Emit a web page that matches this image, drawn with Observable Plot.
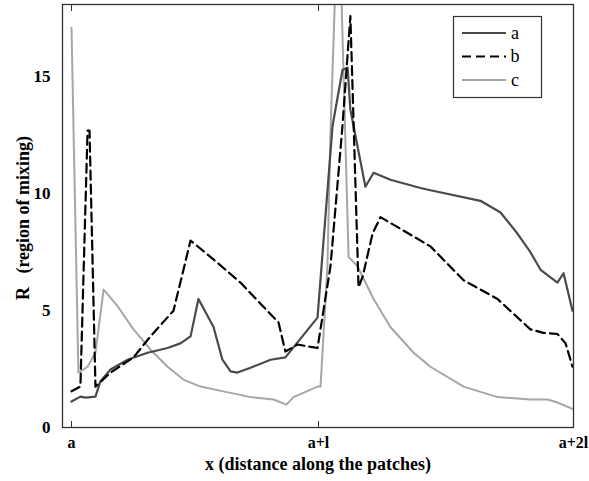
<!DOCTYPE html>
<html>
<head>
<meta charset="utf-8">
<script src="https://cdn.jsdelivr.net/npm/d3@7"></script>
<script src="https://cdn.jsdelivr.net/npm/@observablehq/plot@0.6"></script>
<style>
  html, body { margin: 0; padding: 0; background: #fff; }
  svg { display: block; }
</style>
</head>
<body>
<div id="chart"></div>
<script>
// x in units of l measured from a (0 = a, 1 = a+l, 2 = a+2l)
const xTicks = [0, 1, 2];
const xTickLabels = ["a", "a+l", "a+2l"];
const yTicks = [0, 5, 10, 15];
const seriesNames = ["a", "b", "c"];

const aX = [0, 0.036, 0.057, 0.097, 0.117, 0.158, 0.227, 0.308, 0.389, 0.441, 0.482, 0.514, 0.575, 0.611, 0.644, 0.672, 0.725, 0.806, 0.866, 0.996, 1.055, 1.094, 1.114, 1.125, 1.184, 1.216, 1.282, 1.4, 1.439, 1.635, 1.714, 1.78, 1.831, 1.871, 1.937, 1.961, 1.996];
const aY = [1.11, 1.32, 1.28, 1.32, 1.97, 2.48, 2.9, 3.2, 3.4, 3.6, 3.9, 5.5, 4.3, 2.9, 2.4, 2.35, 2.56, 2.9, 3.0, 4.7, 12.9, 15.3, 15.4, 13.6, 10.3, 10.9, 10.6, 10.25, 10.15, 9.7, 9.2, 8.3, 7.5, 6.75, 6.2, 6.6, 5.0];

const bX = [0, 0.036, 0.065, 0.073, 0.097, 0.158, 0.251, 0.320, 0.413, 0.482, 0.591, 0.684, 0.765, 0.838, 0.866, 0.915, 0.996, 1.047, 1.094, 1.125, 1.157, 1.173, 1.212, 1.243, 1.322, 1.439, 1.569, 1.702, 1.831, 1.882, 1.937, 1.969, 1.996];
const bY = [1.55, 1.75, 12.7, 12.7, 1.75, 2.35, 3.0, 3.9, 5.0, 8.0, 7.05, 6.2, 5.3, 4.5, 3.25, 3.55, 3.4, 6.9, 12.9, 17.6, 6.0, 6.45, 8.3, 9.0, 8.5, 7.75, 6.3, 5.5, 4.2, 4.05, 4.0, 3.6, 2.6];

const cX = [0, 0.028, 0.065, 0.097, 0.130, 0.186, 0.251, 0.320, 0.389, 0.453, 0.522, 0.591, 0.725, 0.818, 0.870, 0.899, 0.996, 1.008, 1.035, 1.047, 1.071, 1.086, 1.118, 1.153, 1.216, 1.282, 1.373, 1.439, 1.569, 1.702, 1.831, 1.898, 1.937, 1.996];
const cY = [17.1, 2.35, 2.6, 3.2, 5.9, 5.2, 4.2, 3.33, 2.6, 2.05, 1.75, 1.6, 1.3, 1.2, 0.98, 1.3, 1.75, 1.75, 6.9, 12.6, 20.5, 20.0, 7.3, 6.9, 5.5, 4.3, 3.2, 2.6, 1.75, 1.3, 1.2, 1.2, 1.07, 0.8];

const colors = {a: "#4a4a4a", b: "#000000", c: "#a6a6a6"};
const dashes = {a: null, b: "9,5", c: null};

const toRows = (xs, ys) => xs.map((x, i) => ({x, y: ys[i]}));
const series = {a: toRows(aX, aY), b: toRows(bX, bY), c: toRows(cX, cY)};

const font = "'Liberation Serif', 'DejaVu Serif', serif";
const W = 589, H = 481;

const chart = Plot.plot({
  width: W,
  height: H,
  marginLeft: 62,
  marginRight: 16,
  marginTop: 4,
  marginBottom: 54,
  style: {fontFamily: font, background: "#fff", overflow: "visible"},
  x: {type: "linear", domain: [0, 1, 2], range: [71, 318, 573]},
  y: {domain: [0, 18.1]},
  marks: [
    Plot.line(series.c, {x: "x", y: "y", stroke: colors.c, strokeWidth: 2, clip: true}),
    Plot.line(series.a, {x: "x", y: "y", stroke: colors.a, strokeWidth: 2.2, clip: true}),
    Plot.line(series.b, {x: "x", y: "y", stroke: colors.b, strokeWidth: 2.2, strokeDasharray: dashes.b, clip: true}),
    Plot.frame({stroke: "#333", strokeWidth: 1.3}),
    Plot.axisX({anchor: "bottom", ticks: xTicks, tickSize: -6, tickFormat: () => "", stroke: "#333", label: null}),
    Plot.axisX({anchor: "top", ticks: [0, 1], tickSize: -6, tickFormat: () => "", stroke: "#333", label: null}),
    Plot.axisX({anchor: "bottom", ticks: xTicks, tickSize: 0, tickPadding: 9, tickFormat: d => xTickLabels[xTicks.indexOf(d)], fontSize: 16, fontWeight: "bold", fill: "#000", label: null}),
    Plot.axisY({anchor: "left", ticks: yTicks, tickSize: 0, tickPadding: 12, fontSize: 17, fontWeight: "bold", fill: "#000", label: null}),
    Plot.text(["R\u00a0\u00a0 (region of mixing)"], {frameAnchor: "left", dx: -39, dy: 2, rotate: -90, textAnchor: "middle", fontSize: 18, fontWeight: "bold", fill: "#000"}),
    Plot.text(["x (distance along the patches)"], {frameAnchor: "bottom", dy: 42, fontSize: 18, fontWeight: "bold", fill: "#000"})
  ]
});

document.getElementById("chart").appendChild(chart);

// Legend (inside plot, top right)
const svg = d3.select(chart);
const lg = svg.append("g").attr("class", "legend");
lg.append("rect").attr("x", 453.5).attr("y", 16.5).attr("width", 88).attr("height", 81)
  .attr("fill", "#fff").attr("stroke", "#333").attr("stroke-width", 1.2);
seriesNames.forEach((name, i) => {
  const yy = 33 + i * 23.5;
  lg.append("line").attr("x1", 462).attr("x2", 506).attr("y1", yy).attr("y2", yy)
    .attr("stroke", colors[name]).attr("stroke-width", 2)
    .attr("stroke-dasharray", dashes[name]);
  lg.append("text").attr("x", 515).attr("y", yy).attr("dy", "0.32em")
    .attr("font-family", font).attr("font-size", 18).attr("fill", "#000").text(name);
});
</script>
</body>
</html>
